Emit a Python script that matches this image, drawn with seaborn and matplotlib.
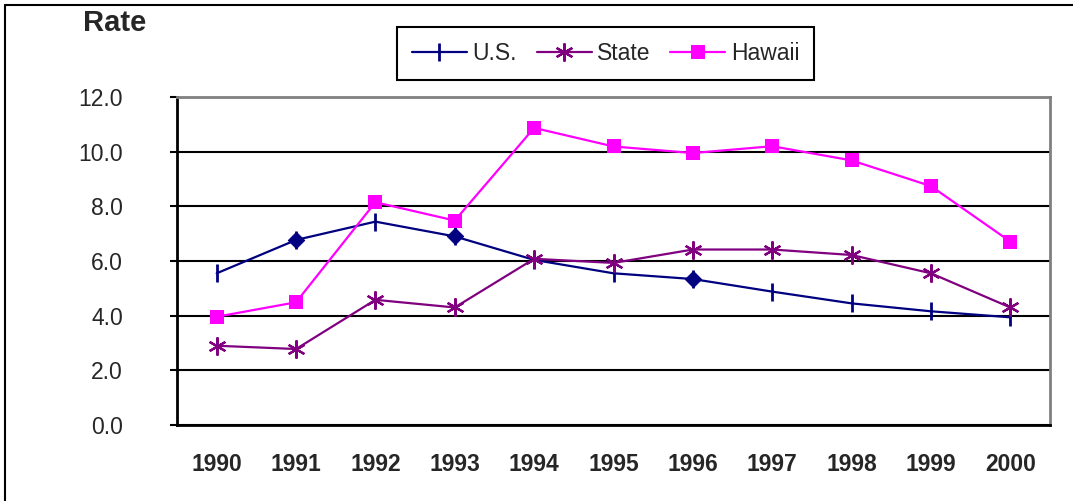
import pandas as pd
import matplotlib.pyplot as plt
import seaborn as sns
from matplotlib.lines import Line2D

# data
years = ['1990', '1991', '1992', '1993', '1994', '1995', '1996', '1997', '1998', '1999', '2000']
us = [5.55, 6.77, 7.44, 6.90, 6.04, 5.55, 5.34, 4.88, 4.45, 4.16, 3.94]
state = [2.90, 2.78, 4.58, 4.30, 6.08, 5.93, 6.42, 6.42, 6.22, 5.55, 4.30]
hawaii = [3.96, 4.49, 8.15, 7.48, 10.87, 10.19, 9.95, 10.20, 9.68, 8.74, 6.71]
us_diamond_years = ['1991', '1993', '1996']
y_ticks = [0, 2, 4, 6, 8, 10, 12]

sns.set_style('white')
plt.rcParams['font.family'] = ['Liberation Sans', 'DejaVu Sans']

df = pd.DataFrame({'pos': range(len(years)), 'year': years,
                   'U.S.': us, 'State': state, 'Hawaii': hawaii})

W, H = 1073, 501
fig = plt.figure(figsize=(W / 100, H / 100), dpi=100)
ax = fig.add_axes([177 / W, 1 - 425 / H, (1050 - 177) / W, (425 - 97) / H])

sns.lineplot(data=df, x='pos', y='U.S.', color='#000080', marker='|', markersize=13,
             markeredgewidth=2, markeredgecolor='#000080', linewidth=1.6, ax=ax, label='U.S.')
sns.scatterplot(data=df[df['year'].isin(us_diamond_years)], x='pos', y='U.S.', marker='D',
                color='#000080', edgecolor='#000080', s=70, ax=ax, legend=False, zorder=3)
sns.lineplot(data=df, x='pos', y='State', color='#800080', marker=(6, 2, 0), markersize=13,
             markeredgewidth=1.6, markeredgecolor='#800080', linewidth=1.6, ax=ax, label='State')
sns.lineplot(data=df, x='pos', y='Hawaii', color='#FF00FF', marker='s', markersize=10,
             markeredgewidth=0, linewidth=1.6, ax=ax, label='Hawaii')

handles, labels = ax.get_legend_handles_labels()
ax.get_legend().remove()
fig.legend(handles, labels, ncol=3, loc='upper left', bbox_to_anchor=(397 / W, 1 - 27 / H),
           frameon=True, fancybox=False, edgecolor='black', framealpha=1, fontsize=16.5,
           handlelength=2.4, handletextpad=0.25, columnspacing=0.85, borderpad=0.65,
           borderaxespad=0).get_frame().set_linewidth(1.5)

# axes styling
ax.set_ylim(0, 12)
ax.set_yticks(y_ticks)
ax.set_yticklabels([f'{v:.1f}' for v in y_ticks], fontsize=16.5)
ax.set_xlim(-0.5, len(years) - 0.5)
ax.set_xticks(range(len(years)))
ax.set_xticklabels(years, fontsize=16.5, fontweight='bold')
ax.set_xticks([i - 0.5 for i in range(len(years) + 1)], minor=True)
ax.tick_params(axis='x', which='major', length=0, pad=20)
ax.tick_params(axis='x', which='minor', length=5, width=1.5, direction='out', color='black')
ax.tick_params(axis='y', length=5, width=1.5, direction='out', color='black', pad=34, left=True)
ax.set_xlabel('')
ax.set_ylabel('')

ax.set_axisbelow(True)
ax.yaxis.grid(True, color='black', linewidth=1.5)
ax.xaxis.grid(False)
for side in ['left', 'bottom']:
    ax.spines[side].set_color('black')
    ax.spines[side].set_linewidth(2)
for side in ['top', 'right']:
    ax.spines[side].set_color('#808080')
    ax.spines[side].set_linewidth(2)

fig.text(115 / W, 1 - 23 / H, 'Rate', fontsize=21, fontweight='bold', ha='center', va='center')

# chart border (left and top edges only)
fig.add_artist(Line2D([5 / W, 5 / W], [0, 1 - 5 / H], color='black', linewidth=1.5))
fig.add_artist(Line2D([5 / W, 1], [1 - 5 / H, 1 - 5 / H], color='black', linewidth=1.5))

fig.savefig('out.png', dpi=100)
